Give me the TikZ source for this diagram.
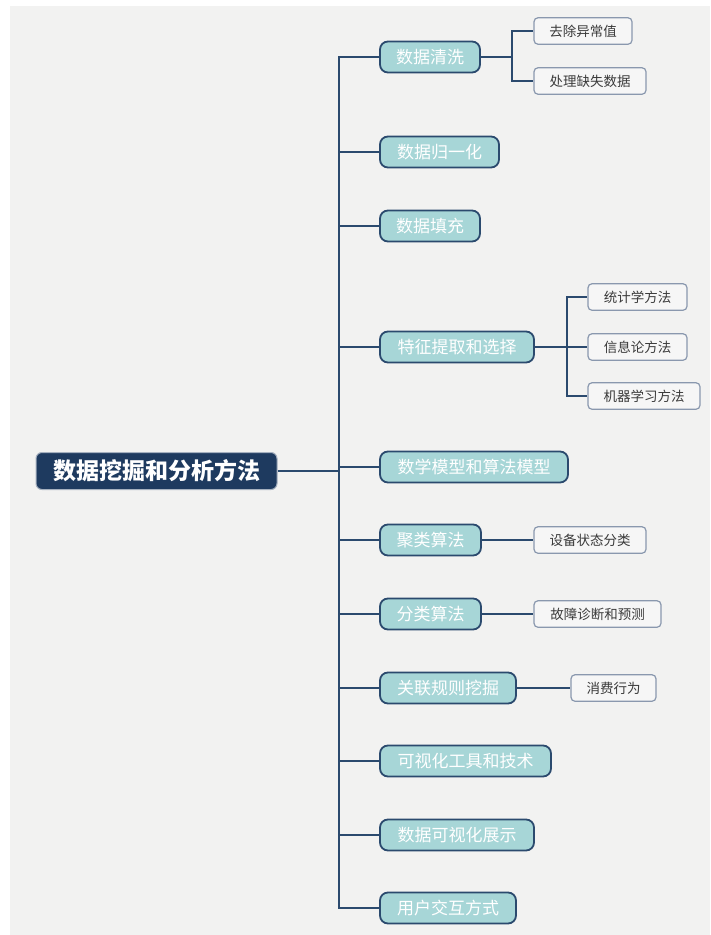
\documentclass[tikz,border=0pt]{standalone}
\usepackage{fontspec}
\newfontfamily\cjk{Noto Sans CJK SC}
\definecolor{bgc}{HTML}{F2F2F1}
\definecolor{linec}{HTML}{2B4A6E}
\definecolor{rootc}{HTML}{1E3A5F}
\definecolor{lonefill}{HTML}{A7D6D7}
\definecolor{lonedraw}{HTML}{2B4A6E}
\definecolor{ltwodraw}{HTML}{8A98AE}
\definecolor{ltwofill}{HTML}{F6F6F6}
\definecolor{ltwotext}{HTML}{3A3A3A}
\tikzset{
  rootbox/.style={fill=rootc, draw=rootc!40!white, line width=1pt, rounded corners=6pt,
    text=white, font=\cjk\bfseries\fontsize{23}{25}\selectfont, minimum height=37pt, inner sep=0pt},
  lvone/.style={fill=lonefill, draw=lonedraw, line width=1.8pt, rounded corners=8pt,
    text=white, font=\cjk\fontsize{17}{19}\selectfont, minimum height=31pt, inner sep=0pt},
  lvtwo/.style={fill=ltwofill, draw=ltwodraw, line width=1.2pt, rounded corners=4pt,
    text=ltwotext, font=\cjk\fontsize{13.5}{15}\selectfont, minimum height=26.5pt, inner sep=0pt},
  conn/.style={draw=linec, line width=2pt}
}
\begin{document}
\begin{tikzpicture}[x=1pt,y=-1pt]
\useasboundingbox (0,0) rectangle (710,935);
\fill[white] (0,0) rectangle (710,935);
\fill[bgc] (10,6) rectangle (710,935);

% root
\node[rootbox, minimum width=241pt] (root) at (156.5,471) {数据挖掘和分析方法};
\coordinate (tk) at (339,471);

% level 1
\node[lvone, minimum width=100pt] (c1) at (430,57) {数据清洗};
\node[lvone, minimum width=119pt] (c2) at (439.5,152) {数据归一化};
\node[lvone, minimum width=100pt] (c3) at (430,226) {数据填充};
\node[lvone, minimum width=154pt] (c4) at (457,347) {特征提取和选择};
\node[lvone, minimum width=188pt] (c5) at (474,467) {数学模型和算法模型};
\node[lvone, minimum width=101pt] (c6) at (430.5,540) {聚类算法};
\node[lvone, minimum width=101pt] (c7) at (430.5,614) {分类算法};
\node[lvone, minimum width=136pt] (c8) at (448,688) {关联规则挖掘};
\node[lvone, minimum width=171pt] (c9) at (465.5,761) {可视化工具和技术};
\node[lvone, minimum width=154pt] (c10) at (457,835) {数据可视化展示};
\node[lvone, minimum width=136pt] (c11) at (448,908) {用户交互方式};

% level 2
\node[lvtwo, minimum width=98pt] (d1) at (583,31) {去除异常值};
\node[lvtwo, minimum width=112pt] (d2) at (590,81) {处理缺失数据};
\node[lvtwo, minimum width=99pt] (d3) at (637.5,297) {统计学方法};
\node[lvtwo, minimum width=99pt] (d4) at (637.5,347) {信息论方法};
\node[lvtwo, minimum width=112pt] (d5) at (644,396) {机器学习方法};
\node[lvtwo, minimum width=112pt] (d6) at (590,540) {设备状态分类};
\node[lvtwo, minimum width=127pt] (d7) at (597.5,614) {故障诊断和预测};
\node[lvtwo, minimum width=85pt] (d8) at (613.5,688) {消费行为};

% connectors root -> level 1
\draw[conn] (root.east) -- (tk);
\foreach \n in {c1,c2,c3,c4,c5,c6,c7,c8,c9,c10,c11}
  \draw[conn] (tk) |- (\n.west);

% level 1 -> level 2
\coordinate (b1) at (512,57);
\draw[conn] (c1.east) -- (b1);
\draw[conn] (b1) |- (d1.west);
\draw[conn] (b1) |- (d2.west);
\coordinate (b4) at (567,347);
\draw[conn] (c4.east) -- (b4);
\draw[conn] (b4) |- (d3.west);
\draw[conn] (b4) |- (d4.west);
\draw[conn] (b4) |- (d5.west);
\draw[conn] (c6.east) -- (d6.west);
\draw[conn] (c7.east) -- (d7.west);
\draw[conn] (c8.east) -- (d8.west);
\end{tikzpicture}
\end{document}
